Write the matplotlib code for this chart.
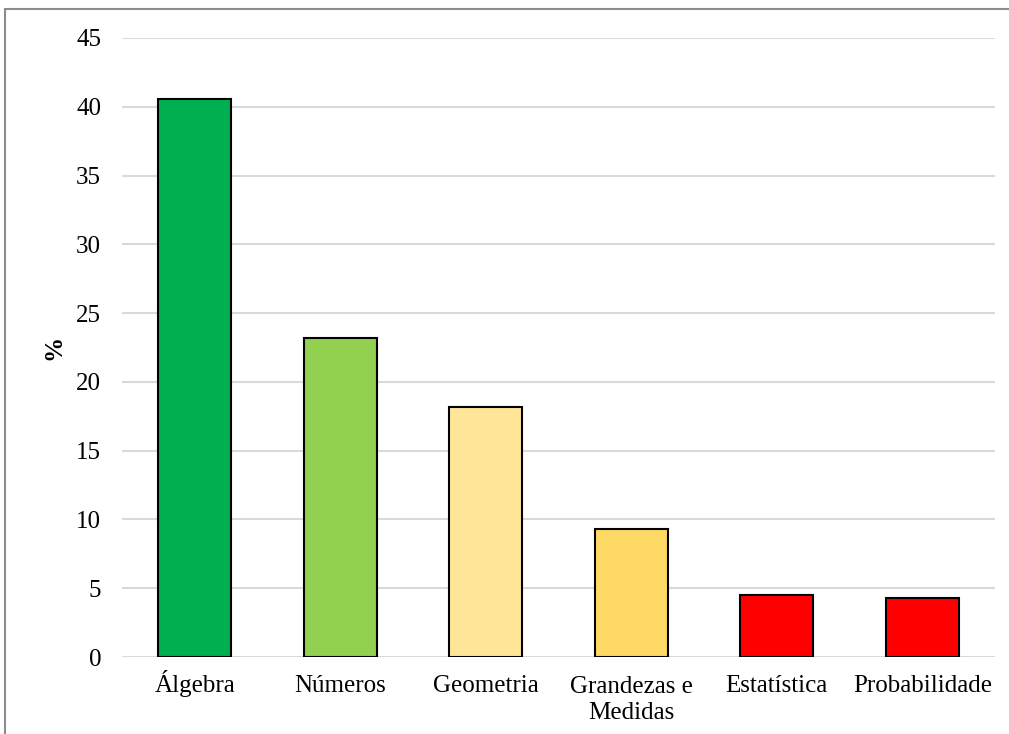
import numpy as np
import matplotlib.pyplot as plt
from matplotlib.patches import Rectangle

plt.rcParams['font.family'] = ['Liberation Serif', 'DejaVu Serif']

categories = ['Álgebra', 'Números', 'Geometria', 'Grandezas e\nMedidas',
              'Estatística', 'Probabilidade']
values = [40.6, 23.2, 18.2, 9.3, 4.5, 4.3]
colors = ['#00B050', '#92D050', '#FFE699', '#FFD966', '#FF0000', '#FF0000']
yticks = [0, 5, 10, 15, 20, 25, 30, 35, 40, 45]

W, H = 1009, 734
fig = plt.figure(figsize=(W/100, H/100), dpi=100)
ax = fig.add_axes([122/W, 1 - 657/H, (995-122)/W, (657-38)/H])

x = np.arange(len(categories))
ax.bar(x, values, width=0.5, color=colors, edgecolor='black', linewidth=1.5, zorder=3)

ax.set_xlim(-0.5, len(categories) - 0.5)
ax.set_ylim(0, 45)
ax.set_yticks(yticks)
ax.set_xticks(x)
ax.set_xticklabels([])
ax.tick_params(axis='y', labelsize=18, length=0, pad=15)
ax.tick_params(axis='x', length=0)
ax.yaxis.grid(True, color='#D9D9D9', linewidth=1.5, zorder=0)
for s in ax.spines.values():
    s.set_visible(False)
ax.set_ylabel('%', fontsize=18, fontweight='bold', labelpad=8)

# category labels, first line baselines aligned like in the original
line_pt = 27 * 0.72
for xi, lab in zip(x, categories):
    nl = lab.count('\n')
    ax.annotate(lab, xy=(xi, 0), xycoords=('data', 'axes fraction'),
                xytext=(0, -25 - nl*line_pt), textcoords='offset points',
                ha='center', va='baseline', fontsize=18, linespacing=1.2,
                annotation_clip=False)

# outer chart frame (partially visible)
fig.patches.append(Rectangle((4.5/W, -0.1), 1.2, (H - 9)/H + 0.1,
                             transform=fig.transFigure, fill=False,
                             edgecolor='#8C8C8C', linewidth=1.5))

fig.savefig('out.png', dpi=100)
